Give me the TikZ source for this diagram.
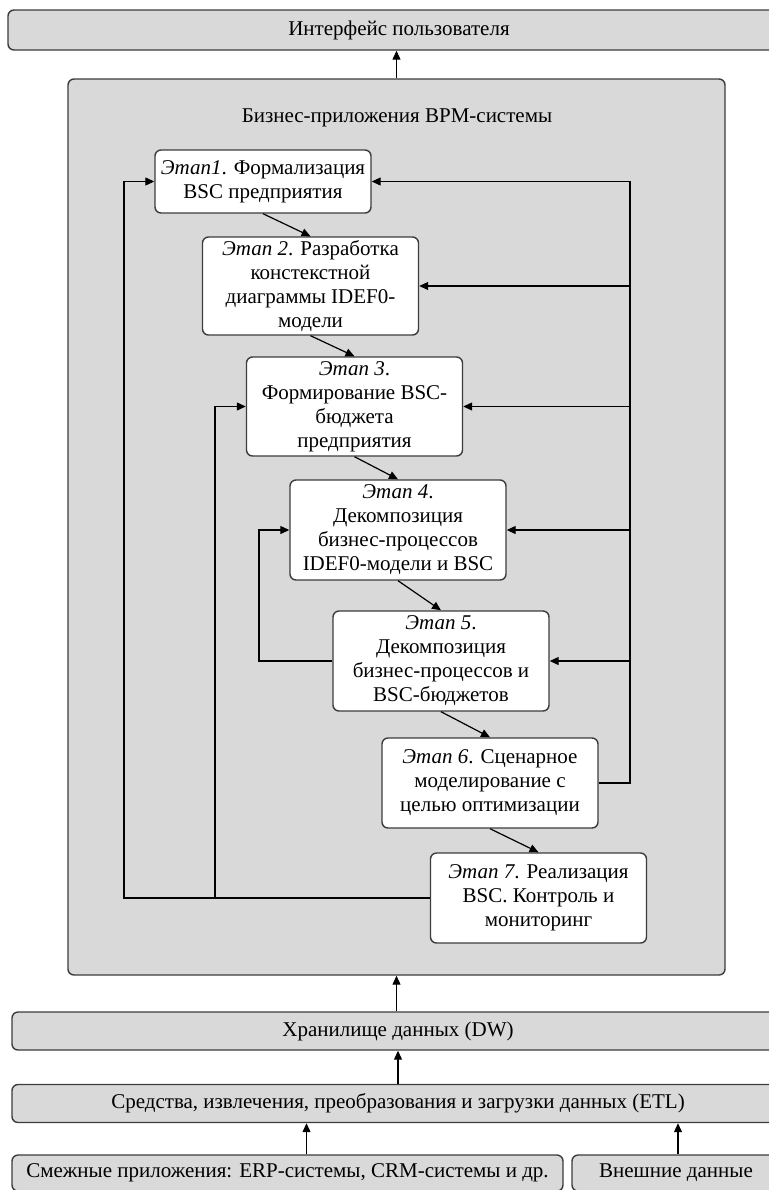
\documentclass[tikz,border=0pt]{standalone}
\usepackage{fontspec}
\setmainfont{Liberation Serif}
\usetikzlibrary{arrows.meta}
\definecolor{panelgray}{RGB}{217,217,217}
\definecolor{edgegray}{RGB}{60,60,60}
\tikzset{
  layer/.style={draw=edgegray, line width=0.7pt, fill=panelgray, rounded corners=3pt, inner sep=0pt},
  stage/.style={draw=edgegray, line width=0.7pt, fill=white, rounded corners=3pt, minimum width=108pt, align=center, inner sep=0pt},
  link/.style={-{Triangle[length=4.5pt,width=4pt]}, line width=0.6pt},
}
\begin{document}
\begin{tikzpicture}[x=0.5pt, y=-0.5pt, font=\fontsize{10.5pt}{12pt}\selectfont]
    \useasboundingbox (0,0) rectangle (769,1190);
    \clip (0,0) rectangle (769,1190);

    \node[layer, minimum width=391pt, minimum height=20pt] (UiIface) at (399,30) {Интерфейс пользователя};
    \node[layer, minimum width=328.5pt, minimum height=448pt] (UiBpm) at (396.5,527) {};
    \node (UiBpmTitle) at (397,118) {Бизнес-приложения BPM-системы};

    \node[stage, minimum height=31.5pt] (StOne) at (263,181.5) {\textit{Этап1}. Формализация\\BSC предприятия};
    \node[stage, minimum height=49pt] (StTwo) at (310.5,286) {\textit{Этап 2}. Разработка\\констекстной\\диаграммы IDEF0-\\модели};
    \node[stage, minimum height=49.5pt] (StThree) at (354.5,406.5) {\textit{Этап 3}.\\Формирование BSC-\\бюджета\\предприятия};
    \node[stage, minimum height=50pt] (StFour) at (398,530) {\textit{Этап 4}.\\Декомпозиция\\бизнес-процессов\\IDEF0-модели и BSC};
    \node[stage, minimum height=50pt] (StFive) at (441,661) {\textit{Этап 5}.\\Декомпозиция\\бизнес-процессов и\\BSC-бюджетов};
    \node[stage, minimum height=45pt] (StSix) at (490,783) {\textit{Этап 6}. Сценарное\\моделирование с\\целью оптимизации};
    \node[stage, minimum height=45pt] (StSeven) at (538.5,898) {\textit{Этап 7}. Реализация\\BSC. Контроль и\\мониторинг};

    \node[layer, minimum width=386pt, minimum height=19pt] (UiDw) at (398,1031) {Хранилище данных (DW)};
    \node[layer, minimum width=386pt, minimum height=19pt] (UiEtl) at (398,1103.5) {Средства, извлечения, преобразования и загрузки данных (ETL)};
    \node[layer, minimum width=275.5pt, minimum height=18pt] (UiAdj) at (287.5,1173) {Смежные приложения: ERP-системы, CRM-системы и др.};
    \node[layer, minimum width=104pt, minimum height=18pt] (UiExt) at (676,1173) {Внешние данные};

    \coordinate (BusRight) at (630,0);
    \coordinate (BusLeft) at (124,0);
    \coordinate (BusMid) at (215,0);
    \coordinate (BusInner) at (259,0);

    \draw[link] (UiBpm.north) -- (UiBpm.north |- UiIface.south);

    \draw[link] (StOne.south) -- (StTwo.north);
    \draw[link] (StTwo.south) -- (StThree.north);
    \draw[link] (StThree.south) -- (StFour.north);
    \draw[link] (StFour.south) -- (StFive.north);
    \draw[link] (StFive.south) -- (StSix.north);
    \draw[link] (StSix.south) -- (StSeven.north);

    \draw[link] (StSix.east) -- (StSix.east -| BusRight) |- (StOne.east);
    \draw[link] (StTwo.east -| BusRight) -- (StTwo.east);
    \draw[link] (StThree.east -| BusRight) -- (StThree.east);
    \draw[link] (StFour.east -| BusRight) -- (StFour.east);
    \draw[link] (StFive.east -| BusRight) -- (StFive.east);

    \draw[link] (StSeven.west) -- (StSeven.west -| BusLeft) |- (StOne.west);
    \draw[link] (StSeven.west -| BusMid) |- (StThree.west);
    \draw[link] (StFive.west) -- (StFive.west -| BusInner) |- (StFour.west);

    \draw[link] (UiBpm.south |- UiDw.north) -- (UiBpm.south);
    \draw[link] (UiEtl.north) -- (UiDw.south);
    \draw[link] ([xshift=9.5pt]UiAdj.north) -- ([xshift=9.5pt]UiAdj.north |- UiEtl.south);
    \draw[link] ([xshift=1pt]UiExt.north) -- ([xshift=1pt]UiExt.north |- UiEtl.south);
  \end{tikzpicture}
\end{document}
